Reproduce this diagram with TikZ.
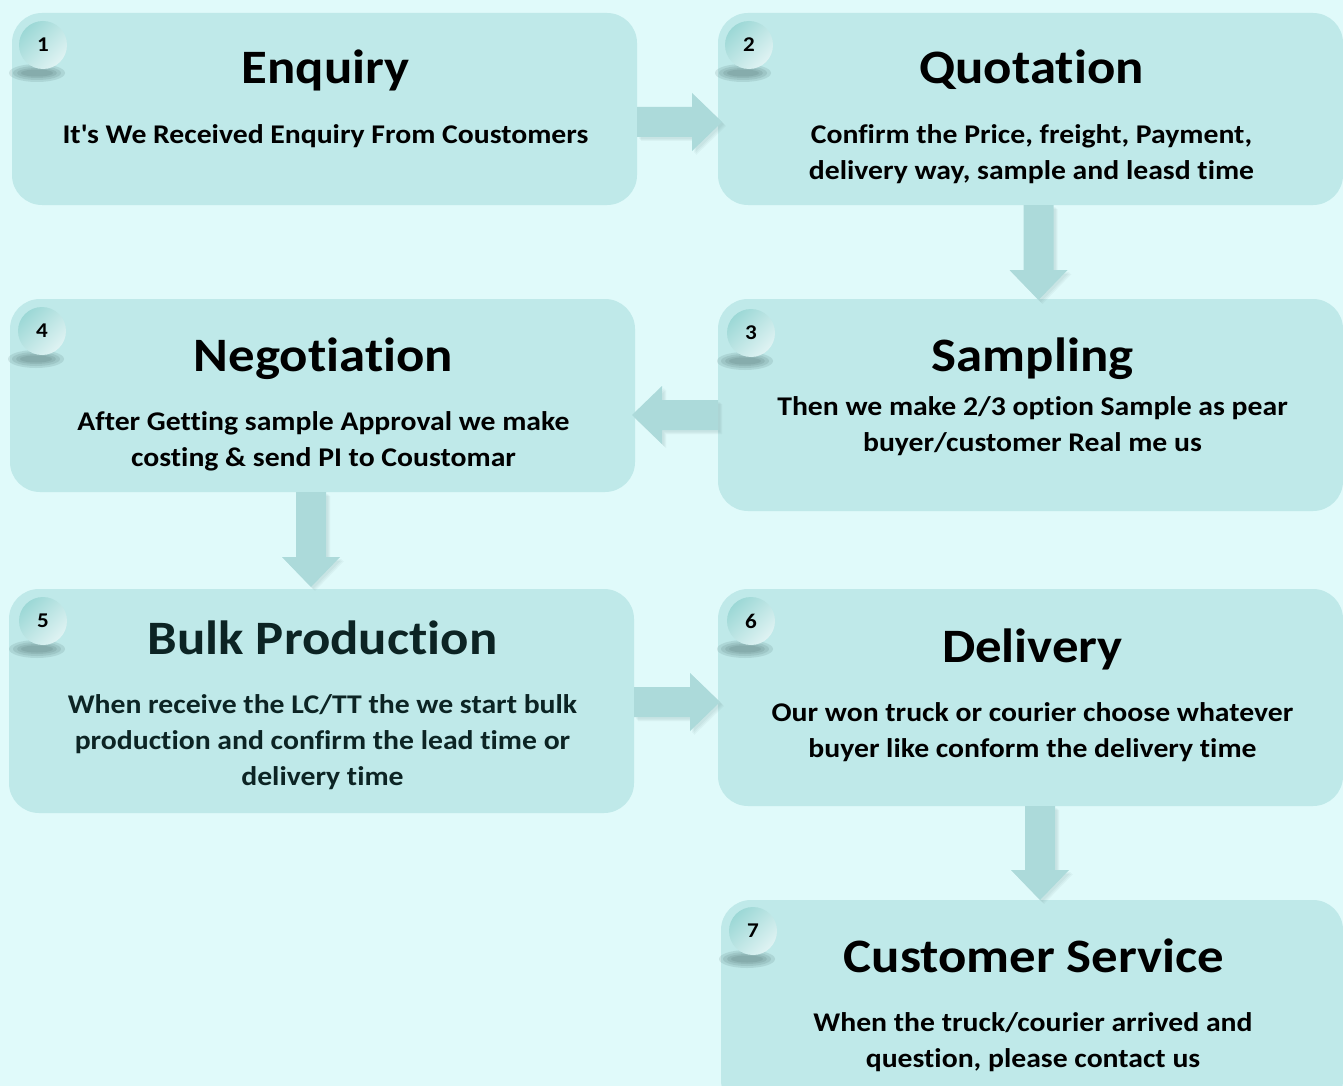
\documentclass[tikz,border=0pt]{standalone}
\usepackage{fontspec}
\setmainfont{Carlito}[FakeStretch=1.1, Ligatures=NoCommon]
\usetikzlibrary{calc}
\definecolor{bgc}{RGB}{224,250,250}
\definecolor{boxc}{RGB}{191,233,233}
\definecolor{arrc}{RGB}{172,218,218}
\definecolor{badgeA}{RGB}{156,216,214}
\definecolor{badgeB}{RGB}{224,243,243}
\definecolor{shadc}{RGB}{70,105,105}
\definecolor{darkteal}{RGB}{12,36,36}
\begin{document}
\begin{tikzpicture}[x=1pt,y=-1pt,
  box/.style={fill=boxc, draw=none, rounded corners=30pt, minimum width=625pt, inner sep=0pt, outer sep=0pt},
  ttl/.style={anchor=base, font=\fontsize{48}{58}\selectfont\bfseries, inner sep=0pt},
  bodytxt/.style={anchor=center, font=\fontsize{27}{36}\selectfont\bfseries, align=center, inner sep=0pt},
  badge/.style={circle, minimum size=48pt, inner sep=0pt, draw=none, top color=badgeA, bottom color=badgeB, shading angle=45, font=\fontsize{21}{24}\selectfont\bfseries},
  arrshadow/.style={preaction={fill=shadc, fill opacity=#1, transform canvas={xshift=2pt,yshift=-2pt}},
                    preaction={fill=shadc, fill opacity=#1, transform canvas={xshift=3pt,yshift=-3pt}},
                    preaction={fill=shadc, fill opacity=#1, transform canvas={xshift=4pt,yshift=-4pt}}},
  blockarrow/.style={fill=arrc, draw=none, arrshadow=0.05,
    to path={let \p1=($(\tikztotarget)!30pt!(\tikztostart)$) in
      ($(\tikztostart)!15pt!90:(\tikztotarget)$) --
      ($(\p1)!15pt!90:(\tikztotarget)$) --
      ($(\p1)!29pt!90:(\tikztotarget)$) --
      (\tikztotarget) --
      ($(\p1)!29pt!-90:(\tikztotarget)$) --
      ($(\p1)!15pt!-90:(\tikztotarget)$) --
      ($(\tikztostart)!15pt!-90:(\tikztotarget)$) -- cycle}}
]
\clip (0,0) rectangle (1343,1086);
\fill[bgc] (0,0) rectangle (1343,1086);

% boxes
\node[box, minimum height=192pt] (b1) at (324.5,109) {};
\node[box, minimum height=192pt] (b2) at (1030.5,109) {};
\node[box, minimum height=193pt] (b4) at (322.5,395.5) {};
\node[box, minimum height=212pt] (b3) at (1030.5,405) {};
\node[box, minimum height=224pt] (b5) at (321.5,701) {};
\node[box, minimum height=217pt] (b6) at (1030.5,697.5) {};
\node[box, minimum height=210pt, minimum width=622pt] (b7) at (1032,1005) {};

% badge shadows and badges
\foreach \b/\dx/\dy/\n in {b1/31/32/1, b2/31/32/2, b4/32/32/4, b3/33/34/3, b5/34/32/5, b6/33/32/6, b7/32/31/7}{
  \coordinate (c\n) at ($(\b.north west)+(\dx,\dy)$);
  \foreach \rx/\ry in {28/9,24/7,20/5,16/3.5}{
    \fill[shadc, opacity=0.14] ($(c\n)+(-6,28)$) ellipse [x radius=\rx pt, y radius=\ry pt];
  }
  \node[badge] (k\n) at (c\n) {\n};
}

% arrows
\path[blockarrow] ([yshift=-13pt]b1.east) to ([xshift=4pt,yshift=-13pt]b2.west);
\path[blockarrow] ([xshift=8pt]b2.south) to ([xshift=8pt,yshift=-1pt]b3.north);
\path[blockarrow] ([yshift=-10pt]b3.west) to ([xshift=-3pt,yshift=-19.5pt]b4.east);
\path[blockarrow] ([xshift=-11.5pt]b4.south) to ([xshift=-10.5pt,yshift=2pt]b5.north);
\path[blockarrow] ([yshift=-1pt]b5.east) to ([xshift=2pt,yshift=-4.5pt]b6.west);
\path[blockarrow] ([xshift=9.5pt]b6.south) to ([xshift=8pt]b7.north);

% texts
\node[ttl] (t1) at ($(b1.north)+(1,71)$) {Enquiry};
\node[bodytxt] (d1) at ($(b1.north)+(1,123)$) {It\textquotesingle s We Received Enquiry From Coustomers};

\node[ttl] (t2) at ($(b2.north)+(1,71)$) {Quotation};
\node[bodytxt] (d2) at ($(b2.north)+(1,141)$) {Confirm the Price, freight, Payment,\\delivery way, sample and leasd time};

\node[ttl] (t4) at ($(b4.north)+(1,72)$) {Negotiation};
\node[bodytxt] (d4) at ($(b4.north)+(1,142)$) {After Getting sample Approval we make\\costing \& send PI to Coustomar};

\node[ttl] (t3) at ($(b3.north)+(2,72)$) {Sampling};
\node[bodytxt] (d3) at ($(b3.north)+(2,127)$) {Then we make 2/3 option Sample as pear\\buyer/customer Real me us};

\node[ttl, text=darkteal] (t5) at ($(b5.north)+(1,65)$) {Bulk Production};
\node[bodytxt, text=darkteal] (d5) at ($(b5.north)+(1,153)$) {When receive the LC/TT the we start bulk\\production and confirm the lead time or\\delivery time};

\node[ttl] (t6) at ($(b6.north)+(2,73)$) {Delivery};
\node[bodytxt] (d6) at ($(b6.north)+(2,143)$) {Our won truck or courier choose whatever\\buyer like conform the delivery time};

\node[ttl] (t7) at ($(b7.north)+(2,72)$) {Customer Service};
\node[bodytxt] (d7) at ($(b7.north)+(1,142)$) {When the truck/courier arrived and\\question, please contact us};
\end{tikzpicture}
\end{document}
